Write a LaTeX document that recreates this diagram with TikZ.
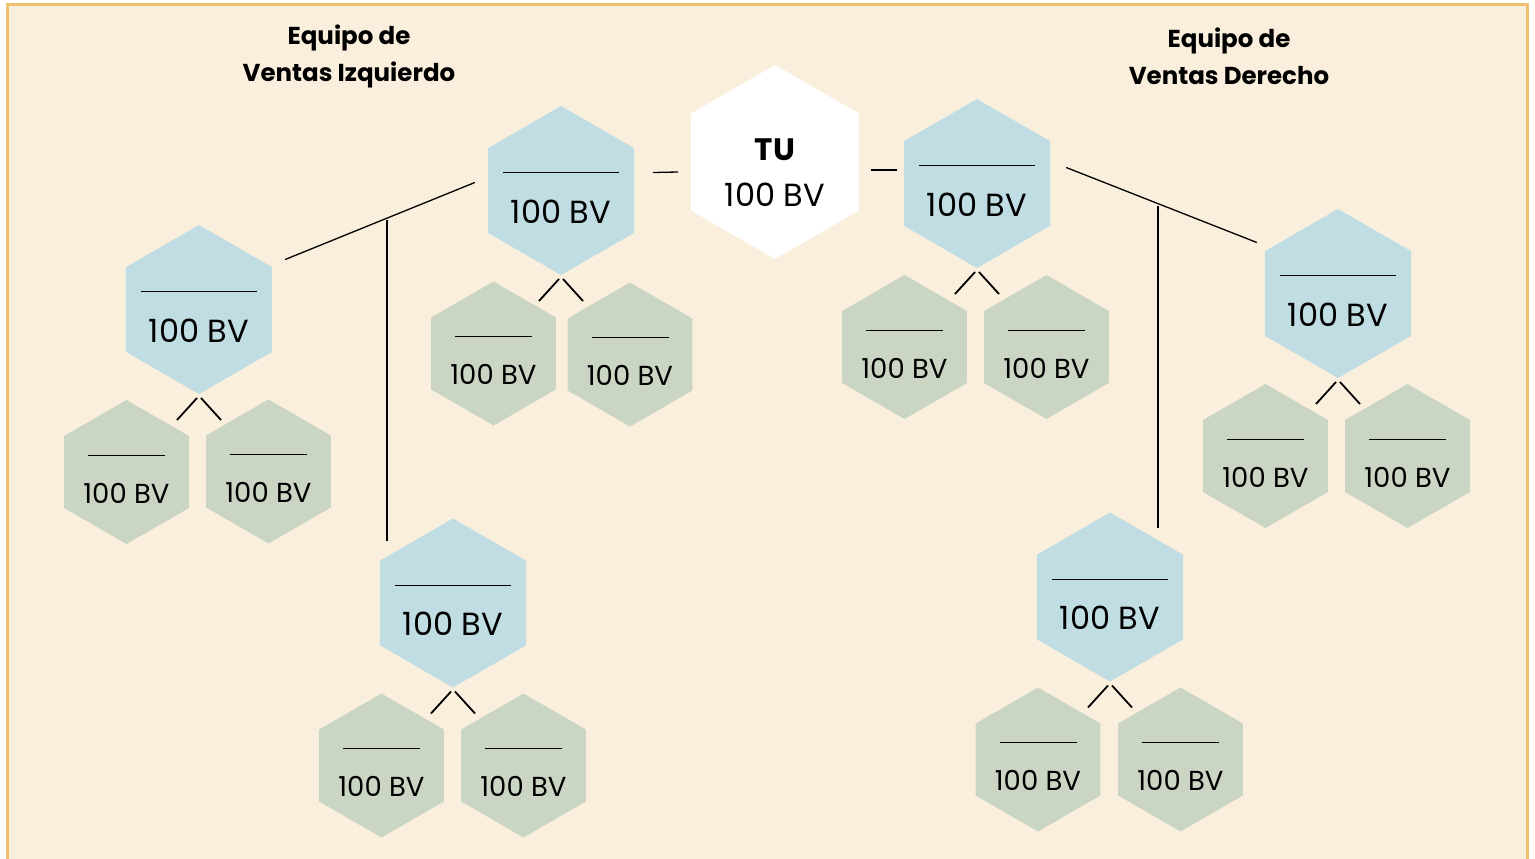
\documentclass[tikz,border=0pt]{standalone}
\usepackage{fontspec}
\setmainfont{Poppins}
\usetikzlibrary{shapes.geometric,calc}

\definecolor{bgcream}{HTML}{FAEFDC}
\definecolor{framegold}{HTML}{EFC070}
\definecolor{hexblue}{HTML}{BFDDE3}
\definecolor{hexgreen}{HTML}{CAD5C4}

\newcommand{\bvbig}{\fontsize{32pt}{38pt}\selectfont}
\newcommand{\bvsmall}{\fontsize{27.5pt}{33pt}\selectfont}
\newcommand{\bvhead}{\fontsize{24.5pt}{37pt}\selectfont\bfseries}
\newcommand{\bvyou}{\fontsize{31pt}{37pt}\selectfont\bfseries}

\tikzset{
  hexa/.style={regular polygon, regular polygon sides=6, shape border rotate=30,
    inner sep=0pt, outer sep=0pt, draw=none},
  bluehex/.style={hexa, fill=hexblue, minimum size=169pt,
    label={[yshift=18pt,inner sep=0pt]center:{\rule{116pt}{1pt}}},
    label={[yshift=-21pt,font=\bvbig]center:100 BV}},
  greenhex/.style={hexa, fill=hexgreen, minimum size=144pt,
    label={[yshift=17pt,inner sep=0pt]center:{\rule{77pt}{1pt}}},
    label={[yshift=-21pt,font=\bvsmall]center:100 BV}},
  teamtitle/.style={align=center, font=\bvhead, inner sep=0pt},
  link/.style={line width=1.3pt},
  fork/.style={line width=1.8pt},
}

\begin{document}
\begin{tikzpicture}[x=1pt, y=-1pt]
            \useasboundingbox (0,0) rectangle (1535,859);
            \fill[white] (0,0) rectangle (1535,859);
            \fill[bgcream] (7.5,4.5) rectangle (1527.5,880);
            \draw[framegold, line width=3pt] (7.5,4.5) rectangle (1527.5,880);

            % titles
            \node[teamtitle] (tleft) at (349,56) {Equipo de\\Ventas Izquierdo};
            \node[teamtitle] (tright) at (1229,56) {Equipo de\\Ventas Derecho};

            % you
            \node[hexa, fill=white, minimum size=194pt,
                  label={[yshift=12pt,font=\bvyou]center:TU},
                  label={[yshift=-33pt,font=\bvbig]center:100 BV}] (tu) at (775,162) {};

            % left team
            \node[bluehex] (l1) at (561,190.5) {};
            \node[bluehex] (l2) at (199,309.5) {};
            \node[bluehex] (l3) at (453,603) {};
            \node[greenhex] (l1a) at (493.5,353.5) {};
            \node[greenhex] (l1b) at (630,354.5) {};
            \node[greenhex] (l2a) at (126.5,472) {};
            \node[greenhex] (l2b) at (268.5,471.5) {};
            \node[greenhex] (l3a) at (381.5,765.5) {};
            \node[greenhex] (l3b) at (523.5,765.5) {};

            % right team
            \node[bluehex] (r1) at (977,183.5) {};
            \node[bluehex] (r2) at (1338,293.5) {};
            \node[bluehex] (r3) at (1110,597) {};
            \node[greenhex] (r1a) at (904.5,347) {};
            \node[greenhex] (r1b) at (1046.5,347) {};
            \node[greenhex] (r2a) at (1265.5,456) {};
            \node[greenhex] (r2b) at (1407.5,456) {};
            \node[greenhex] (r3a) at (1038,759.5) {};
            \node[greenhex] (r3b) at (1180.5,759.5) {};

            % links
            \draw[link] ($(l1.0)+(19,-18)$) -- ($(tu.180)+(-13,10)$);
            \draw[link] ($(tu.0)+(12,8)$) -- ($(r1.180)+(-7,-13.5)$);
            \draw[link] ($(l1.180)+(-13,-8)$) -- ($(l2.0)+(13,-50)$);
            \draw[link] ($(l3.90)+(-66,22)$) -- ++(0,-320);
            \draw[link] ($(r1.0)+(16,-16)$) -- ($(r2.180)+(-8,-51)$);
            \draw[link] ($(r3.90)+(48,15)$) -- ++(0,-321);

            % forks
            \draw[fork] ($(l1.270)+(-2,4)$) -- ++(-20,22);
            \draw[fork] ($(l1.270)+(2,4)$) -- ++(20,22);
            \draw[fork] ($(l2.270)+(-2,4)$) -- ++(-20,22);
            \draw[fork] ($(l2.270)+(2,4)$) -- ++(20,22);
            \draw[fork] ($(l3.270)+(-2,4)$) -- ++(-20,22);
            \draw[fork] ($(l3.270)+(2,4)$) -- ++(20,22);
            \draw[fork] ($(r1.270)+(-2,4)$) -- ++(-20,22);
            \draw[fork] ($(r1.270)+(2,4)$) -- ++(20,22);
            \draw[fork] ($(r2.270)+(-2,4)$) -- ++(-20,22);
            \draw[fork] ($(r2.270)+(2,4)$) -- ++(20,22);
            \draw[fork] ($(r3.270)+(-2,4)$) -- ++(-20,22);
            \draw[fork] ($(r3.270)+(2,4)$) -- ++(20,22);
\end{tikzpicture}
\end{document}
